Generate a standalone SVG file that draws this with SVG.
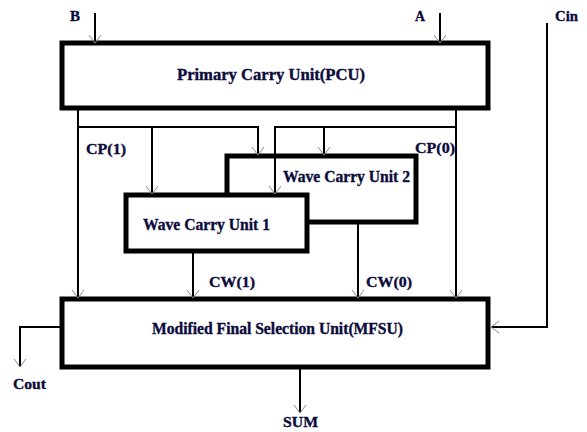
<svg xmlns="http://www.w3.org/2000/svg" width="587" height="432" viewBox="0 0 587 432">
<style>
.box{fill:#fff;stroke:#000;stroke-width:5}
.w{fill:none;stroke:#000;stroke-width:2}
.t{font-family:"Liberation Serif",serif;font-weight:bold;fill:#0b0b3b;stroke:#0b0b3b;stroke-width:0.35;font-size:15px}
.b{font-size:16px}
</style>
<defs>
<marker id="ah" markerUnits="userSpaceOnUse" markerWidth="20" markerHeight="20" viewBox="-10 -10 20 20" refX="0" refY="0" orient="auto">
<path d="M-8,-6 L0,0 L-8,6" fill="none" stroke="#888" stroke-width="1"/>
</marker>
</defs>
<rect width="587" height="432" fill="#fff"/>
<g id="pcu">
<rect class="box" x="62" y="43" width="426" height="65"/>
<text class="t b" x="177" y="80" textLength="188" lengthAdjust="spacingAndGlyphs">Primary Carry Unit(PCU)</text>
</g>
<g id="wcu2">
<rect class="box" x="227" y="156" width="189" height="66"/>
<text class="t b" x="283" y="182" textLength="127" lengthAdjust="spacingAndGlyphs">Wave Carry Unit 2</text>
</g>
<g id="wcu1">
<rect class="box" x="126" y="195" width="181" height="56"/>
<text class="t b" x="143" y="230" textLength="127" lengthAdjust="spacingAndGlyphs">Wave Carry Unit 1</text>
</g>
<g id="mfsu">
<rect class="box" x="62" y="299" width="426" height="68"/>
<text class="t b" x="152" y="334" textLength="251" lengthAdjust="spacingAndGlyphs">Modified Final Selection Unit(MFSU)</text>
</g>
<g id="labels">
<text class="t" x="70" y="21" textLength="10" lengthAdjust="spacingAndGlyphs">B</text>
<text class="t" x="415" y="21" textLength="10" lengthAdjust="spacingAndGlyphs">A</text>
<text class="t" x="555" y="21" textLength="23" lengthAdjust="spacingAndGlyphs">Cin</text>
<text class="t" x="86" y="154" textLength="40" lengthAdjust="spacingAndGlyphs">CP(1)</text>
<text class="t" x="415" y="153" textLength="40" lengthAdjust="spacingAndGlyphs">CP(0)</text>
<text class="t" x="209" y="287" textLength="46" lengthAdjust="spacingAndGlyphs">CW(1)</text>
<text class="t" x="366" y="287" textLength="46" lengthAdjust="spacingAndGlyphs">CW(0)</text>
<text class="t" x="13" y="389" textLength="33" lengthAdjust="spacingAndGlyphs">Cout</text>
<text class="t" x="283" y="427" textLength="35" lengthAdjust="spacingAndGlyphs">SUM</text>
</g>
<g id="connectors">
<path class="w" d="M95,13 V43" marker-end="url(#ah)"/>
<path class="w" d="M440,13 V43" marker-end="url(#ah)"/>
<path class="w" d="M78,108 V298" marker-end="url(#ah)"/>
<path class="w" d="M78,127 H258 V155" marker-end="url(#ah)"/>
<path class="w" d="M152,127 V194" marker-end="url(#ah)"/>
<path class="w" d="M456,108 V298" marker-end="url(#ah)"/>
<path class="w" d="M456,127 H275 V194" marker-end="url(#ah)"/>
<path class="w" d="M324,127 V155" marker-end="url(#ah)"/>
<path class="w" d="M193,252 V298" marker-end="url(#ah)"/>
<path class="w" d="M358,223 V298" marker-end="url(#ah)"/>
<path class="w" d="M547,23 V327 H491" marker-end="url(#ah)"/>
<path class="w" d="M62,327 H20 V367" marker-end="url(#ah)"/>
<path class="w" d="M300,368 V413" marker-end="url(#ah)"/>
</g>
</svg>
